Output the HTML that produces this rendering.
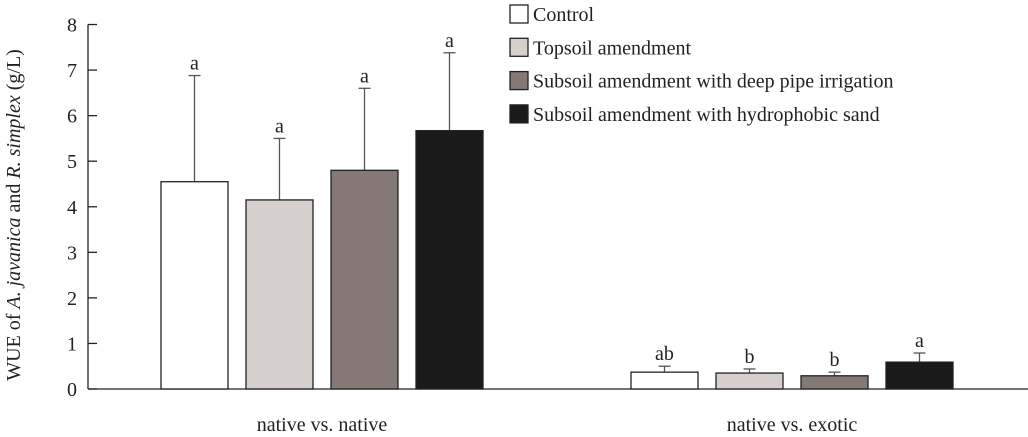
<!DOCTYPE html>
<html><head><meta charset="utf-8"><style>
body{margin:0;background:#fff}
svg{display:block;font-family:"Liberation Serif",serif}
</style></head><body>
<svg id="chart" width="1028" height="437" viewBox="0 0 1028 437" xmlns="http://www.w3.org/2000/svg">
<g id="axes"></g><g id="bars"></g><g id="legend"></g>
<text transform="translate(20,215) rotate(-90)" text-anchor="middle" font-size="20" fill="#222">WUE of <tspan font-style="italic">A. javanica</tspan> and <tspan font-style="italic">R. simplex</tspan> (g/L)</text>
</svg>
<script>
const categories=["native vs. native","native vs. exotic"];
const seriesNames=["Control","Topsoil amendment","Subsoil amendment with deep pipe irrigation","Subsoil amendment with hydrophobic sand"];
const seriesColors=["#ffffff","#d6cfcd","#857977","#1a1a1a"];
const means=[[4.55,4.15,4.8,5.67],[0.37,0.35,0.29,0.59]];
const errTops=[[6.88,5.5,6.6,7.38],[0.5,0.44,0.37,0.79]];
const letters=[["a","a","a","a"],["ab","b","b","a"]];
const yTicks=[0,1,2,3,4,5,6,7,8];
const NS="http://www.w3.org/2000/svg";
const y0=389,yPerUnit=45.56,axisX=88;
const y=v=>y0-v*yPerUnit;
const groupStart=[161,631],barW=67,barStep=85;
function mk(tag,attrs,parent){const e=document.createElementNS(NS,tag);for(const k in attrs)e.setAttribute(k,attrs[k]);parent.appendChild(e);return e;}
const axes=document.getElementById('axes'),bars=document.getElementById('bars'),legend=document.getElementById('legend');
let l=mk('line',{x1:axisX,y1:y(8),x2:axisX,y2:y0,stroke:"#222","stroke-width":1.3},axes);


l=mk('line',{x1:axisX,y1:y0,x2:1028,y2:y0,stroke:"#222","stroke-width":1.3},axes);


yTicks.forEach(t=>{
 const tk=mk('line',{x1:axisX,y1:y(t),x2:axisX+9,y2:y(t),stroke:"#222","stroke-width":1.3},axes);
 
 
 const tx=mk('text',{x:72,y:y(t)+7,"text-anchor":"middle","font-size":20,fill:"#222"},axes);
 tx.textContent=t;
 
 
});
categories.forEach((c,g)=>{
 means[g].forEach((m,i)=>{
  const x=groupStart[g]+i*barStep,cx=x+barW/2;
  const eb=mk('line',{x1:cx,y1:y(errTops[g][i]),x2:cx,y2:y(m),stroke:"#555","stroke-width":1.3},bars);
  
  
  const cap=mk('line',{x1:cx-6,y1:y(errTops[g][i]),x2:cx+6,y2:y(errTops[g][i]),stroke:"#555","stroke-width":1.3},bars);
  
  
  const r=mk('rect',{x:x,y:y(m),width:barW,height:y0-y(m),fill:seriesColors[i],stroke:"#222","stroke-width":1.3},bars);
  
  
  const lt=mk('text',{x:cx,y:y(errTops[g][i])-6,"text-anchor":"middle","font-size":20,fill:"#222"},bars);
  lt.textContent=letters[g][i];
  
  
 });
 const ct=mk('text',{x:groupStart[g]+(3*barStep+barW)/2,y:437-6,"text-anchor":"middle","font-size":20,fill:"#222"},axes);
 ct.textContent=c;
 
 
});
seriesNames.forEach((n,i)=>{
 const yy=5+i*33.3;
 const b=mk('rect',{x:510,y:yy,width:18,height:18,fill:seriesColors[i],stroke:"#222","stroke-width":1.3},legend);
 
 
 const t=mk('text',{x:533,y:yy+16,"font-size":20,fill:"#222"},legend);
 t.textContent=n;
 
 
});
</script>
</body></html>
